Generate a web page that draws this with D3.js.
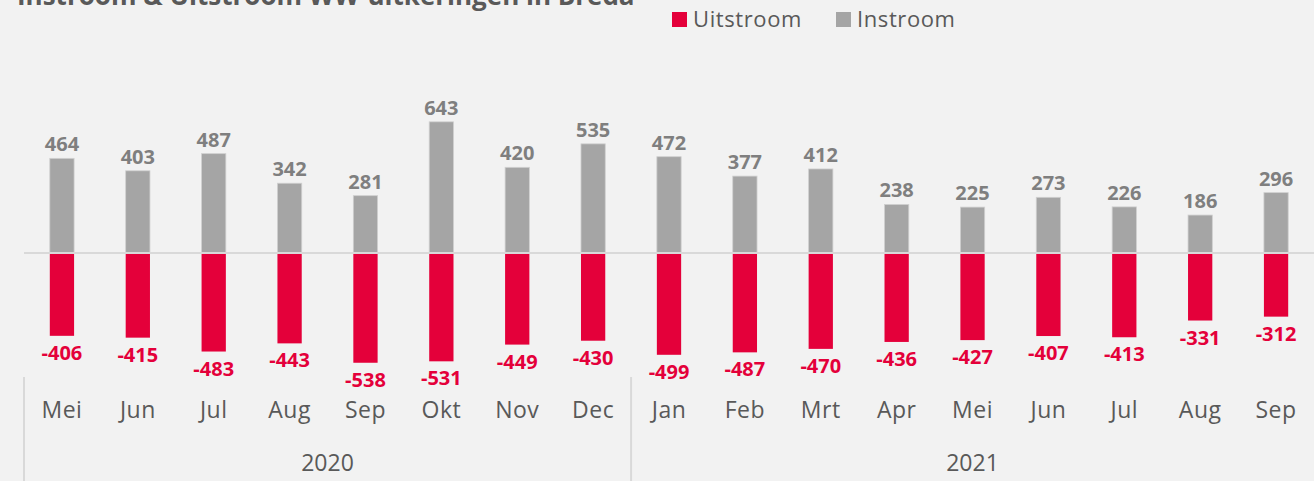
<!DOCTYPE html>
<html>
<head>
<meta charset="utf-8">
<script src="https://cdn.jsdelivr.net/npm/d3@7"></script>
<style>
  body { margin: 0; background: #f2f2f2; }
  svg { display: block; font-family: "Open Sans", sans-serif; }
</style>
</head>
<body>
<svg id="chart"></svg>
<script>
// months and years
var months = ["Mei","Jun","Jul","Aug","Sep","Okt","Nov","Dec","Jan","Feb","Mrt","Apr","Mei","Jun","Jul","Aug","Sep"]
var years = [{label:"2020", from:0, to:7}, {label:"2021", from:8, to:16}]

// series values
var instroom = [464,403,487,342,281,643,420,535,472,377,412,238,225,273,226,186,296]
var uitstroom = [-406,-415,-483,-443,-538,-531,-449,-430,-499,-487,-470,-436,-427,-407,-413,-331,-312]

var screen = {width:1314,height:481}
var colors = {uit:"#e4003a", in:"#a5a5a5", text:"#595959", label:"#7f7f7f"}

var svg = d3.select("#chart")
    .attr("width",screen.width)
    .attr("height",screen.height)

svg.append("rect")
    .attr("width",screen.width)
    .attr("height",screen.height)
    .attr("fill","#f2f2f2")

// title (cut off at the top like the original)
svg.append("text")
    .attr("x",17)
    .attr("y",5)
    .attr("font-size",26)
    .attr("font-weight","bold")
    .attr("fill",colors.text)
    .text("Instroom & Uitstroom WW-uitkeringen in Breda")

var idx = d3.range(months.length)

var xScale = d3.scaleBand()
    .domain(idx)
    .range([24,1314])
    .paddingInner(0.68)
    .paddingOuter(0.34)

var yScale = d3.scaleLinear()
    .domain([-600,700])
    .range([375.4,110.2])

// bars
var bars = svg.append("g")

bars.selectAll(".in")
    .data(instroom)
    .enter()
    .append("rect")
    .attr("x",function(d,i){return xScale(i)})
    .attr("width",xScale.bandwidth())
    .attr("y",function(d){return yScale(d)})
    .attr("height",function(d){return yScale(0)-yScale(d)})
    .attr("fill",colors.in)
    .attr("stroke","#d0d0d0")
    .attr("stroke-width",0.8)

bars.selectAll(".uit")
    .data(uitstroom)
    .enter()
    .append("rect")
    .attr("x",function(d,i){return xScale(i)})
    .attr("width",xScale.bandwidth())
    .attr("y",yScale(0))
    .attr("height",function(d){return yScale(d)-yScale(0)})
    .attr("fill",colors.uit)

// zero line
svg.append("line")
    .attr("x1",24)
    .attr("x2",1314)
    .attr("y1",yScale(0))
    .attr("y2",yScale(0))
    .attr("stroke","#d9d9d9")
    .attr("stroke-width",2)

// value labels
svg.append("g")
    .selectAll("text")
    .data(instroom)
    .enter()
    .append("text")
    .attr("x",function(d,i){return xScale(i)+xScale.bandwidth()/2})
    .attr("y",function(d){return yScale(d)-7})
    .attr("text-anchor","middle")
    .attr("font-size",20)
    .attr("font-weight","bold")
    .attr("fill",colors.label)
    .text(function(d){return d})

svg.append("g")
    .selectAll("text")
    .data(uitstroom)
    .enter()
    .append("text")
    .attr("x",function(d,i){return xScale(i)+xScale.bandwidth()/2})
    .attr("y",function(d){return yScale(d)+24})
    .attr("text-anchor","middle")
    .attr("font-size",20)
    .attr("font-weight","bold")
    .attr("fill",colors.uit)
    .text(function(d){return d})

// category axis
var axis = svg.append("g")

axis.selectAll(".month")
    .data(months)
    .enter()
    .append("text")
    .attr("x",function(d,i){return xScale(i)+xScale.bandwidth()/2})
    .attr("y",418)
    .attr("text-anchor","middle")
    .attr("font-size",23)
    .attr("letter-spacing",0.5)
    .attr("fill",colors.text)
    .text(function(d){return d})

// group separators: left edge and between the years
var gap = xScale.step()*xScale.paddingInner()/2
var sepX = function(d){return d==0 ? xScale.range()[0] : xScale(d)-gap}

axis.selectAll(".sep")
    .data([years[0].from, years[1].from])
    .enter()
    .append("line")
    .attr("x1",sepX)
    .attr("x2",sepX)
    .attr("y1",377)
    .attr("y2",481)
    .attr("stroke","#d9d9d9")
    .attr("stroke-width",2)

axis.selectAll(".year")
    .data(years)
    .enter()
    .append("text")
    .attr("x",function(d){return (sepX(d.from) + (d.to==months.length-1 ? xScale.range()[1] : sepX(d.to+1)))/2})
    .attr("y",471)
    .attr("text-anchor","middle")
    .attr("font-size",23)
    .attr("fill",colors.text)
    .text(function(d){return d.label})

// legend
var legendData = [{name:"Uitstroom",color:colors.uit,x:672},{name:"Instroom",color:colors.in,x:836}]

var legend = svg.append("g")
    .selectAll("g")
    .data(legendData)
    .enter()
    .append("g")
    .attr("transform",function(d){return "translate("+d.x+",12)"})

legend.append("rect")
    .attr("width",15)
    .attr("height",15)
    .attr("fill",function(d){return d.color})

legend.append("text")
    .attr("x",21)
    .attr("y",15)
    .attr("font-size",22)
    .attr("letter-spacing",0.6)
    .attr("fill",colors.text)
    .text(function(d){return d.name})
</script>
</body>
</html>
